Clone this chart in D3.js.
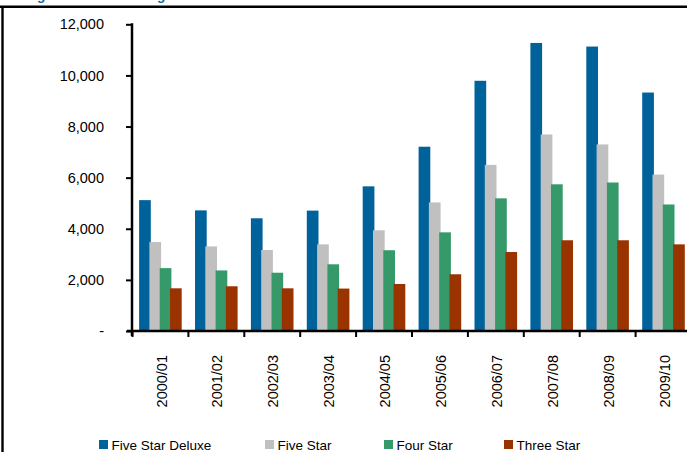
<!DOCTYPE html>
<html>
<head>
<meta charset="utf-8">
<script src="https://cdn.jsdelivr.net/npm/d3@7"></script>
<style>
  html, body { margin: 0; padding: 0; background: #fff; }
  svg { display: block; }
  text { font-family: "Liberation Sans", Arial, Helvetica, sans-serif; }
</style>
</head>
<body>
<svg id="chart" width="687" height="452"></svg>
<script>
// ---- data ----
const categories = ["2000/01","2001/02","2002/03","2003/04","2004/05","2005/06","2006/07","2007/08","2008/09","2009/10"];
const seriesNames = ["Five Star Deluxe","Five Star","Four Star","Three Star"];
const fiveStarDeluxe = [5120, 4720, 4410, 4710, 5660, 7210, 9790, 11270, 11130, 9330];
const fiveStar       = [3480, 3310, 3170, 3390, 3940, 5030, 6500, 7690, 7300, 6120];
const fourStar       = [2460, 2370, 2280, 2610, 3160, 3860, 5190, 5740, 5810, 4950];
const threeStar      = [1670, 1750, 1670, 1660, 1840, 2220, 3090, 3550, 3550, 3390];
const yTicks = [0, 2000, 4000, 6000, 8000, 10000, 12000];
const titleText = "Average Room Rate Ranges";

const seriesValues = [fiveStarDeluxe, fiveStar, fourStar, threeStar];
const colors = ["#00629B", "#C0C0C0", "#35996A", "#993300"];

// ---- layout ----
const svg = d3.select("#chart");
svg.append("rect").attr("width", 687).attr("height", 452).attr("fill", "#fff");

const axisX = 132, y0 = 331, yTop = 24.3;
const x0 = d3.scaleBand().domain(categories).range([132.5, 132.5 + 55.9 * categories.length]).padding(0);
const x1 = d3.scaleBand().domain(seriesNames).range([6.6, 6.6 + 4 * 10.3]).padding(0);
const barW = x1.bandwidth() + 1.4;
const y = d3.scaleLinear().domain([0, 12000]).range([y0, yTop]);

// cropped title (only descenders visible, as in the reference)
svg.append("text").attr("x", 0).attr("y", -0.4)
  .attr("fill", "#0A6AA1").attr("font-weight", "bold").attr("font-size", 13.5)
  .text(titleText);

// frame lines
svg.append("line").attr("x1", 0).attr("x2", 687).attr("y1", 6.7).attr("y2", 6.7)
  .attr("stroke", "#000").attr("stroke-width", 2.6);
svg.append("line").attr("x1", 2.5).attr("x2", 2.5).attr("y1", 6.7).attr("y2", 452)
  .attr("stroke", "#000").attr("stroke-width", 2.4);

// bars
seriesNames.forEach((s, si) => {
  svg.append("g").selectAll("rect")
    .data(categories.map((c, i) => ({ c, v: seriesValues[si][i] })))
    .join("rect")
    .attr("x", d => x0(d.c) + x1(s))
    .attr("y", d => y(d.v))
    .attr("width", barW)
    .attr("height", d => y0 - y(d.v))
    .attr("fill", colors[si]);
});

// y axis
const yAxis = d3.axisLeft(y).tickValues(yTicks).tickSize(6).tickPadding(22)
  .tickFormat(d => d === 0 ? "-" : d3.format(",")(d));
const gy = svg.append("g").attr("transform", `translate(${axisX},0)`).call(yAxis);
gy.select(".domain").remove();
gy.selectAll(".tick line").attr("stroke", "#000").attr("stroke-width", 2);
gy.selectAll(".tick text").attr("font-size", 14.5).attr("fill", "#000")
  .attr("font-family", "'Liberation Sans', Arial, sans-serif");
svg.append("line").attr("x1", axisX).attr("x2", axisX).attr("y1", yTop - 1).attr("y2", y0 + 5)
  .attr("stroke", "#000").attr("stroke-width", 2.5);

// x axis
svg.append("line").attr("x1", axisX - 5).attr("x2", 687).attr("y1", y0).attr("y2", y0)
  .attr("stroke", "#000").attr("stroke-width", 2.5);
const gx = svg.append("g");
gx.selectAll("line.xt").data(categories).join("line").attr("class", "xt")
  .attr("x1", d => x0(d)).attr("x2", d => x0(d))
  .attr("y1", y0).attr("y2", y0 + 6)
  .attr("stroke", "#000").attr("stroke-width", 2);
gx.selectAll("text").data(categories).join("text")
  .attr("transform", d => `translate(${x0(d) + x0.bandwidth() / 2 + 1},355) rotate(-90)`)
  .attr("text-anchor", "end").attr("dy", "0.35em")
  .attr("font-size", 14.5).attr("fill", "#000")
  .text(d => d);

// legend
const legendX = [99, 265, 384, 504];
const lg = svg.append("g");
seriesNames.forEach((s, i) => {
  lg.append("rect").attr("x", legendX[i]).attr("y", 440).attr("width", 9).attr("height", 9)
    .attr("fill", colors[i]);
  lg.append("text").attr("x", legendX[i] + 12.5).attr("y", 450)
    .attr("font-size", 13.5).attr("fill", "#000").text(s);
});
</script>
</body>
</html>
